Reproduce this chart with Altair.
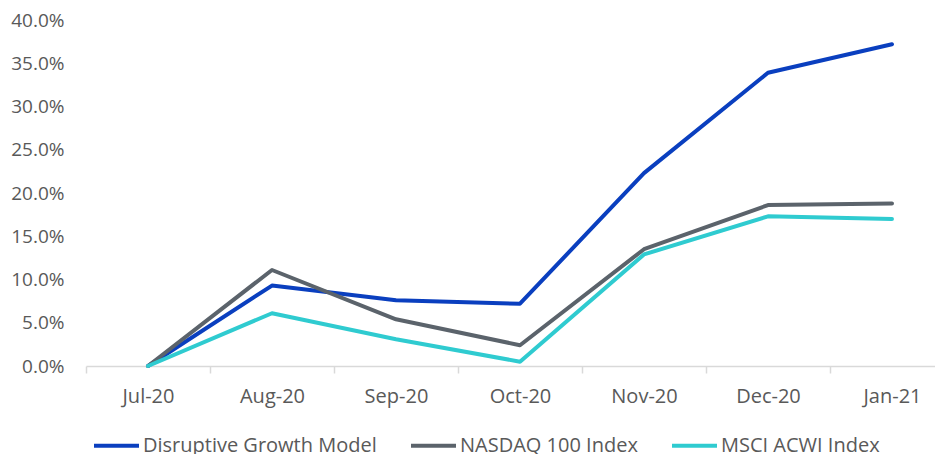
import json
import altair as alt
import pandas as pd

months = ["Jul-20", "Aug-20", "Sep-20", "Oct-20", "Nov-20", "Dec-20", "Jan-21"]
series_names = ["Disruptive Growth Model", "NASDAQ 100 Index", "MSCI ACWI Index"]
series_colors = ["#0a3fbf", "#5b636b", "#2fcbd0"]

disruptive = [0.0, 9.3, 7.6, 7.2, 22.3, 33.9, 37.2]
nasdaq = [0.0, 11.1, 5.4, 2.4, 13.5, 18.6, 18.8]
msci = [0.0, 6.1, 3.1, 0.5, 12.9, 17.3, 17.0]

y_ticks = [0.0, 0.05, 0.10, 0.15, 0.20, 0.25, 0.30, 0.35, 0.40]

rows = []
for order, (name, vals) in enumerate(zip(series_names, [disruptive, nasdaq, msci])):
    for i, (m, v) in enumerate(zip(months, vals)):
        rows.append({"idx": i, "month": m, "series": name, "value": v / 100.0, "order": order})
df = pd.DataFrame(rows)

label_expr = json.dumps(months) + "[round(datum.value + 0.5)]"
TEXT = "#595959"
FONT = "Open Sans"

chart = (
    alt.Chart(df)
    .mark_line(strokeWidth=4, strokeJoin="round", strokeCap="round")
    .encode(
        x=alt.X(
            "idx:Q",
            scale=alt.Scale(domain=[-0.5, 6.347], nice=False, zero=False),
            axis=alt.Axis(
                values=[-0.5 + i for i in range(7)],
                labelExpr=label_expr,
                labelOffset=62,
                ticks=True,
                tickSize=7,
                tickColor="#d9d9d9",
                tickWidth=1.5,
                domainColor="#d9d9d9",
                domainWidth=1.5,
                grid=False,
                title=None,
                labelFlush=False,
                labelBound=False,
                labelOverlap=False,
                labelPadding=13,
                labelFontSize=20,
                labelColor=TEXT,
                labelFont=FONT,
            ),
        ),
        y=alt.Y(
            "value:Q",
            scale=alt.Scale(domain=[0, 0.4], nice=False),
            axis=alt.Axis(
                values=y_ticks,
                format=".1%",
                ticks=False,
                domain=False,
                grid=False,
                title=None,
                labelPadding=22,
                labelFontSize=19,
                labelColor=TEXT,
                labelFont=FONT,
            ),
        ),
        color=alt.Color(
            "series:N",
            scale=alt.Scale(domain=series_names, range=series_colors),
            legend=alt.Legend(
                orient="none",
                legendX=6,
                legendY=401,
                direction="horizontal",
                symbolType="stroke",
                symbolStrokeWidth=4,
                symbolSize=2025,
                labelFontSize=20,
                labelColor=TEXT,
                labelFont=FONT,
                labelOffset=2,
                labelLimit=400,
                columnPadding=26,
                padding=0,
                title=None,
            ),
        ),
        order=alt.Order("order:Q", sort="descending"),
    )
    .properties(
        width=849,
        height=346,
        autosize=alt.AutoSizeParams(type="none"),
        padding={"left": 78, "top": 12, "right": 0, "bottom": 88},
    )
    .configure(font=FONT)
    .configure_view(stroke=None)
)

chart.save("out.html", embed_options={"renderer": "svg", "actions": False})
